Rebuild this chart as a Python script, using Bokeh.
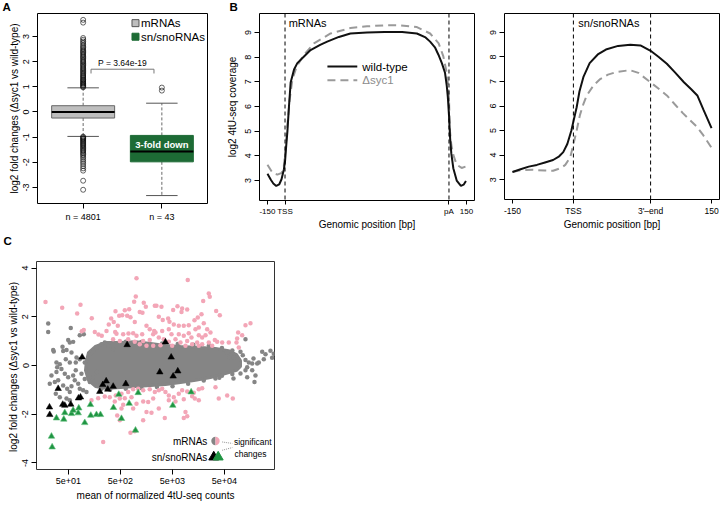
import numpy as np
from bokeh.plotting import figure
from bokeh.models import FixedTicker, Range1d, Span
from bokeh.layouts import row, column
from bokeh.embed import file_html
from bokeh.resources import INLINE
from bokeh.core.properties import value

FONT = "Liberation Sans"

# ---------------- Panel A data ----------------
groups = ["mRNAs", "sn/snoRNAs"]
group_n = ["n = 4801", "n = 43"]
box_lower_whisker = [-0.97, -3.32]
box_q1 = [-0.24, -1.98]
box_median = [0.0, -1.57]
box_q3 = [0.25, -0.93]
box_upper_whisker = [0.96, 0.35]
mrna_outliers = [0.98, 1.01, 1.05, 1.08, 1.12, 1.15, 1.19, 1.23, 1.27, 1.3, 1.35, 1.39, 1.43, 1.47, 1.52,
                 1.56, 1.61, 1.65, 1.7, 1.74, 1.79, 1.84, 1.88, 1.93, 1.98, 2.02, 2.07, 2.12, 2.17, 2.21,
                 2.26, 2.31, 2.36, 2.4, 2.45, 2.5, 2.56, 2.61, 2.67, 2.74, 2.8, 2.87, 2.94, 3.55, 3.66,
                 -0.98, -1.01, -1.05, -1.08, -1.12, -1.16, -1.2, -1.24, -1.28, -1.32, -1.36, -1.41,
                 -1.45, -1.5, -1.54, -1.59, -1.64, -1.69, -1.75, -1.82, -1.9, -1.98, -2.06, -2.15,
                 -2.24, -2.33, -2.73, -3.09]
sno_outliers = [0.97, 0.85]
p_value_text = "P = 3.64e-19"

# ---------------- Panel B data ----------------
mrna_pos = [-150, -120, -100, -75, -50, -30, -10, 0, 10, 20, 34, 48, 77, 105, 162, 218, 300, 360, 460,
            558, 700, 850, 1000, 1126, 1200, 1239, 1280, 1310, 1340, 1366, 1381, 1390, 1400, 1410,
            1420, 1437, 1466, 1502, 1525, 1545]
mrna_wt = [3.27, 3.02, 2.88, 2.78, 2.84, 3.05, 3.45, 3.77, 4.4, 4.97, 6.03, 6.97, 7.5, 7.76, 8.03, 8.29,
           8.5, 8.63, 8.82, 8.96, 9.0, 9.02, 9.02, 8.96, 8.8, 8.63, 8.4, 8.1, 7.75, 7.37, 6.85, 6.4,
           5.65, 4.7, 4.1, 3.5, 3.0, 2.78, 2.83, 2.98]
mrna_pos_mut = [-150, -107, -65, -28, -10, 0, 10, 20, 40, 63, 100, 162, 247, 389, 558, 700, 843, 983,
                1126, 1239, 1312, 1352, 1381, 1392, 1400, 1409, 1420, 1437, 1466, 1508, 1545]
mrna_syc1 = [3.64, 3.31, 3.24, 3.31, 3.6, 4.04, 4.6, 5.23, 6.3, 7.1, 7.63, 8.1, 8.56, 8.96, 9.18,
             9.25, 9.29, 9.29, 9.22, 8.96, 8.56, 8.03, 7.36, 6.9, 6.3, 4.98, 4.45, 4.04, 3.64, 3.51, 3.57]
sno_pos = [-150, -130, -110, -90, -70, -50, -35, -25, -15, -5, 0, 8, 15, 25, 40, 60, 80, 110, 140,
           165, 190, 210, 230, 250, 272, 290, 305, 320, 340]
sno_wt = [3.31, 3.42, 3.53, 3.6, 3.7, 3.8, 3.95, 4.12, 4.45, 5.0, 5.37, 5.95, 6.6, 7.2, 7.75, 8.1,
          8.3, 8.45, 8.5, 8.47, 8.25, 8.0, 7.72, 7.37, 6.97, 6.68, 6.43, 5.85, 5.1]
sno_pos_mut = [-150, -130, -100, -70, -50, -30, -20, -8, 0, 8, 16, 25, 33, 50, 66, 85, 107, 139, 160,
               190, 210, 230, 250, 270, 303, 320, 340]
sno_syc1 = [3.31, 3.38, 3.4, 3.37, 3.36, 3.48, 3.6, 3.9, 4.44, 5.0, 5.63, 6.1, 6.43, 6.85, 7.1, 7.28,
            7.39, 7.46, 7.35, 6.96, 6.7, 6.43, 6.06, 5.7, 5.17, 4.8, 4.3]
mrna_ticks = [-150, 0, 1400, 1550]
mrna_tick_labels = ["-150", "TSS", "pA", "150"]
sno_ticks = [-150, 0, 190, 340]
sno_tick_labels = ["-150", "TSS", "3'\u2013end", "150"]

# ---------------- Panel C data (log10 mean count, log2 fold change) ----------------
core_log_mean = [2.084, 2.218, 2.41, 2.699, 2.987, 3.276, 3.564, 3.853, 4.237, 4.526, 4.776, 4.93, 5.007,
                 5.007, 4.93, 4.718, 4.43, 4.141, 3.853, 3.564, 3.276, 2.987, 2.699, 2.41, 2.218, 2.084,
                 2.026, 2.045]
core_lfc = [0.53, 0.78, 0.94, 0.94, 0.98, 0.9, 0.82, 0.78, 0.74, 0.7, 0.61, 0.45, 0.2, -0.04, -0.2,
            -0.33, -0.49, -0.61, -0.7, -0.78, -0.82, -0.86, -0.9, -0.94, -0.86, -0.61, -0.2, 0.2]
gray_log_mean = [1.309, 1.309, 1.743, 1.916, 1.993, 1.405, 1.416, 1.584, 1.597, 1.693, 1.724, 1.789, 1.468,
                 1.532, 1.661, 1.757, 1.853, 1.647, 1.724, 1.839, 1.916, 2.012, 2.109, 2.174, 2.237, 2.334,
                 2.397, 2.462, 2.559, 1.339, 1.436, 1.501, 1.372, 1.468, 1.564, 1.482, 1.628, 1.693, 1.597,
                 1.674, 1.724, 1.757, 1.82, 1.886, 1.916, 1.982, 2.045, 1.789, 1.839, 1.949, 2.012, 2.109,
                 2.174, 2.237, 2.27, 2.334, 1.455, 1.532, 1.661, 1.724, 5.103, 4.751, 4.795, 4.878, 5.007,
                 5.051, 5.424, 5.488, 5.455, 5.103, 5.167, 5.232, 5.359, 5.583, 5.647, 5.615, 5.257, 5.328,
                 5.136, 5.232, 5.295, 5.136, 5.276, 4.872, 5.103, 4.526, 5.007, 4.65, 3.5, 3.8, 4.1, 4.4,
                 4.65, 4.85, 2.8, 3.1, 2.5, 2.8, 3.1, 3.4, 3.7, 4.0, 4.3, 4.6, 4.85]
gray_lfc = [1.72, 1.38, 1.54, 1.24, 1.28, 0.64, 0.57, 0.77, 0.6, 1.05, 0.94, 0.97, 0.12, 0.05, 0.64, 0.53,
            0.33, 0.26, 0.12, 0.12, 0.26, 0.12, 0.46, 0.6, 0.74, 0.87, 0.94, 0.81, 0.67, -0.75, -0.68,
            -0.61, -0.41, -0.27, -0.14, -0.07, -0.34, -0.48, -0.82, -0.95, -1.09, -0.85, -0.61, -0.75,
            -0.95, -1.02, -1.09, -0.41, -0.2, -0.34, -0.55, -0.68, -0.48, -0.27, -0.82, -0.95, -1.16,
            -1.3, -1.36, -1.43, 1.08, 0.53, 0.33, 0.33, 0.56, 0.42, 0.56, 0.46, 0.26, 0.23, 0.12, 0.08,
            0.12, 0.61, 0.48, 0.32, 0.29, 0.08, -0.07, -0.2, -0.41, -0.48, -0.68, -0.53, -0.2, -0.53,
            -0.33, -0.42, 0.9, 0.88, 0.85, 0.82, 0.72, 0.62, 0.98, 0.96, -1.0, -0.95, -0.92, -0.88,
            -0.85, -0.75, -0.62, -0.5, -0.35]
pink_log_mean = [3.007, 1.257, 1.578, 1.93, 1.866, 2.147, 2.993, 2.962, 3.147, 3.186, 3.07, 3.122, 2.782,
                 2.866, 2.603, 2.732, 2.674, 2.828, 2.891, 2.52, 2.57, 2.974, 2.474, 2.647, 3.199, 3.262,
                 1.993, 1.955, 2.205, 2.276, 2.339, 2.43, 2.597, 2.622, 2.751, 2.853, 2.943, 3.007, 3.116,
                 3.328, 3.347, 2.557, 2.686, 2.847, 2.974, 3.135, 3.262, 3.07, 3.199, 3.328, 3.359,
                 3.993, 4.397, 4.416, 4.29, 4.539, 4.609, 3.391, 3.487, 3.712, 3.795, 3.885, 3.982, 3.872,
                 4.257, 4.186, 4.122, 3.436, 3.512, 3.616, 3.641, 4.301, 5.103, 5.199, 3.724, 3.82, 3.916,
                 4.012, 4.141, 4.205, 4.366, 4.43, 3.372, 3.501, 3.628, 3.68, 3.82, 3.916, 4.012, 4.064,
                 4.205, 4.27, 4.334, 4.962, 5.039, 4.943, 4.93, 4.974, 4.513, 4.558, 4.655, 4.782, 3.436,
                 3.532, 3.628, 3.757, 3.853, 3.982, 4.077, 4.174, 4.27, 4.397, 3.468, 3.693, 3.949, 4.205,
                 4.462,
                 2.141, 2.27, 2.397, 2.493, 2.609, 2.718, 2.847, 2.943, 3.039, 3.136, 3.262, 3.359, 2.686,
                 2.782, 2.911, 2.589, 2.751, 2.718, 2.636, 2.686, 2.943, 3.007, 3.136, 3.232, 3.328, 3.199,
                 3.295, 3.135, 2.891, 2.974, 2.366, 3.436, 3.501, 3.564, 3.628, 3.724, 3.82, 3.885, 3.982,
                 4.109, 4.205, 4.27, 4.128, 4.205, 4.077, 3.916, 3.628, 3.757, 3.436, 3.551, 3.949, 3.982,
                 3.916, 4.589, 4.751, 4.859, 4.526]
pink_lfc = [3.58, 2.61, 2.37, 2.49, 2.13, 1.94, 2.83, 2.62, 2.58, 2.41, 2.2, 2.17, 2.27, 2.31, 2.23, 2.06,
            2.04, 2.04, 1.98, 1.93, 1.79, 1.79, 1.68, 1.63, 1.63, 1.49, 1.46, 1.41, 1.38, 1.27, 1.22,
            1.42, 1.38, 1.3, 1.28, 1.31, 1.32, 1.22, 1.28, 1.28, 1.42, 1.08, 1.01, 1.08, 0.97, 1.01,
            1.05, 0.87, 0.81, 0.81, 2.45,
            3.51, 2.96, 2.82, 2.65, 2.24, 2.06, 2.45, 2.41, 2.28, 2.43, 2.34, 2.3, 2.2, 2.1, 1.97, 1.86,
            2.0, 1.87, 1.93, 1.8, 1.73, 1.65, 1.73, 1.68, 1.63, 1.63, 1.65, 1.49, 1.56, 1.49, 1.35, 1.35,
            1.42, 1.49, 1.28, 1.28, 1.22, 1.32, 1.15, 1.24, 1.15, 1.24, 1.35, 1.24, 1.11, 0.94, 0.74,
            1.05, 0.97, 0.94, 0.94, 1.15, 1.08, 0.97, 1.08, 0.94, 1.01, 0.87, 0.94, 0.87, 0.94, 0.83,
            0.81, 0.81, 0.81, 0.81,
            -1.43, -1.34, -1.27, -1.3, -1.23, -1.16, -1.09, -0.98, -0.95, -1.02, -0.98, -1.09, -1.36,
            -1.34, -1.3, -1.48, -1.61, -1.77, -2.05, -2.25, -1.77, -1.57, -1.48, -1.5, -1.36, -1.91,
            -1.94, -2.25, -2.76, -2.7, -3.14, -1.02, -0.95, -1.09, -1.23, -1.3, -1.16, -1.02, -1.07,
            -1.12, -0.98, -0.93, -1.36, -1.43, -1.26, -1.39, -1.43, -1.48, -1.77, -2.16, -1.91, -2.08,
            -2.16, -1.36, -1.23, -1.36, -0.89]
sno_ns_log_mean = [2.827, 3.564, 3.674, 3.455, 3.801, 3.712, 1.962, 2.424, 2.359, 2.455, 2.559, 2.801,
                   2.301, 1.501, 1.334, 1.339, 1.589, 1.628, 1.743, 1.891, 1.93]
sno_ns_lfc = [0.85, 0.96, 0.34, -0.27, -0.23, -0.44, 0.34, -0.64, -0.79, -0.98, -0.86, -0.75, -1.07,
              -0.95, -1.71, -2.02, -1.6, -1.64, -1.6, -1.34, -1.3]
sno_sig_log_mean = [1.372, 1.385, 1.468, 1.609, 1.628, 1.757, 1.789, 1.897, 1.886, 2.012, 2.122, 2.128,
                    2.237, 2.314, 2.564, 2.666, 2.718, 2.866, 3.039, 2.988, 4.058, 3.705]
sno_sig_lfc = [-2.91, -3.35, -2.16, -2.21, -1.94, -1.98, -1.84, -1.75, -1.95, -2.35, -1.61, -2.05, -2.02,
               -2.02, -1.73, -1.19, -2.18, -1.56, -1.12, -2.66, -1.09, -1.64]
c_ticks = [50, 500, 5000, 50000]
c_tick_labels = ["5e+01", "5e+02", "5e+03", "5e+04"]

GRAY_BOX = "#bebebe"
GREEN_BOX = "#1d6b35"
GRAY_PT = "#858585"
PINK_PT = "#f3a6b7"
GREEN_PT = "#1f9442"


def style(p):
    p.xgrid.visible = False
    p.ygrid.visible = False
    p.outline_line_color = "black"
    p.outline_line_width = 1
    p.outline_line_alpha = 1
    for ax in p.axis:
        ax.axis_line_color = None
        ax.major_tick_line_color = "black"
        ax.major_tick_out = 4
        ax.major_tick_in = 0
        ax.minor_tick_line_color = None
        ax.major_label_text_font = FONT
        ax.major_label_text_font_size = "9px"
        ax.major_label_text_color = "black"
        ax.axis_label_text_font = FONT
        ax.axis_label_text_font_size = "10px"
        ax.axis_label_text_font_style = "normal"
        ax.axis_label_text_color = "black"
        ax.major_label_standoff = 3


def header(width, height):
    h = figure(width=width, height=height, x_range=Range1d(0, width), y_range=Range1d(0, height),
               output_backend="svg", toolbar_location=None, x_axis_type=None, y_axis_type=None,
               min_border=0, min_border_left=0, min_border_right=0, min_border_top=0, min_border_bottom=0,
               frame_align=False)
    h.xgrid.visible = False
    h.ygrid.visible = False
    h.outline_line_color = None
    return h


# ================= panel letters =================
hdr1 = header(720, 13)
hdr1.text(x=[2, 229], y=[12.9, 12.9], text=["A", "B"], text_font=value(FONT), text_font_size="11.5px",
          text_font_style="bold", text_baseline="top", text_color="black")
hdr2 = header(720, 18)
hdr2.text(x=[3], y=[15.4], text=["C"], text_font=value(FONT), text_font_size="11.5px",
          text_font_style="bold", text_baseline="top", text_color="black")

# ================= Panel A =================
pA = figure(width=218, height=219, x_range=Range1d(0.42, 2.58), y_range=Range1d(-3.635, 3.913),
            output_backend="svg", toolbar_location=None, min_border_left=37, min_border_right=11,
            min_border_top=0, min_border_bottom=29, frame_align=False)
style(pA)
xs = [1, 2]
pA.segment(x0=xs, x1=xs, y0=box_q3, y1=box_upper_whisker, line_color="#444444", line_dash="3 2", line_width=0.8)
pA.segment(x0=xs, x1=xs, y0=box_q1, y1=box_lower_whisker, line_color="#444444", line_dash="3 2", line_width=0.8)
pA.segment(x0=[x - 0.2 for x in xs], x1=[x + 0.2 for x in xs], y0=box_upper_whisker, y1=box_upper_whisker,
           line_color="#555555", line_width=1)
pA.segment(x0=[x - 0.2 for x in xs], x1=[x + 0.2 for x in xs], y0=box_lower_whisker, y1=box_lower_whisker,
           line_color="#555555", line_width=1)
pA.quad(left=[x - 0.4 for x in xs], right=[x + 0.4 for x in xs], bottom=box_q1, top=box_q3,
        fill_color=[GRAY_BOX, GREEN_BOX], line_color=["#666666", GREEN_BOX], line_width=1)
pA.segment(x0=[x - 0.4 for x in xs], x1=[x + 0.4 for x in xs], y0=box_median, y1=box_median,
           line_color="black", line_width=2.2)
pA.scatter(x=[1] * len(mrna_outliers), y=mrna_outliers, marker="circle", size=5, fill_color=None,
           line_color="black", line_width=0.6)
pA.scatter(x=[2] * len(sno_outliers), y=sno_outliers, marker="circle", size=5, fill_color=None,
           line_color="black", line_width=0.6)
pA.text(x=[2], y=[-1.3], text=["3-fold down"], text_color="white", text_font=value(FONT),
        text_font_size="9.5px", text_font_style="bold", text_align="center", text_baseline="middle")
pA.line(x=[1.1, 1.1, 1.9, 1.9], y=[1.53, 1.7, 1.7, 1.53], line_color="#777777", line_width=1)
pA.text(x=[1.5], y=[1.76], text=[p_value_text], text_font=value(FONT), text_font_size="8.5px",
        text_align="center", text_baseline="bottom", text_color="black")
pA.scatter(x=[1.665, 1.665], y=[3.53, 2.99], marker="square", size=7,
           fill_color=[GRAY_BOX, GREEN_BOX], line_color=["#555555", GREEN_BOX])
pA.text(x=[1.735, 1.735], y=[3.53, 2.99], text=groups, text_font=value(FONT), text_font_size="11.5px",
        text_baseline="middle", text_align="left", text_color="black")
pA.xaxis.ticker = FixedTicker(ticks=xs)
pA.xaxis.major_label_overrides = {1: group_n[0], 2: group_n[1]}
pA.xaxis.major_tick_out = 5
pA.yaxis.ticker = FixedTicker(ticks=[-3, -2, -1, 0, 1, 2, 3])
pA.yaxis.major_label_overrides = {v: str(v) for v in [-3, -2, -1, 0, 1, 2, 3]}
pA.yaxis.major_label_orientation = "vertical"
pA.yaxis.axis_label = "log2 fold changes (\u0394syc1 vs wild-type)"
pA.yaxis.axis_label_standoff = 1
pA.yaxis.major_tick_out = 5

# ================= Panel B (left) =================
yB = (2.19, 9.77)
pB1 = figure(width=260, height=219, x_range=Range1d(-218, 1618), y_range=Range1d(*yB),
             output_backend="svg", toolbar_location=None, min_border_left=41, min_border_right=4,
             min_border_top=0, min_border_bottom=29, frame_align=False)
style(pB1)
for xv in [0, 1400]:
    pB1.add_layout(Span(location=xv, dimension="height", line_color="black", line_dash="4 3", line_width=1))
pB1.line(mrna_pos_mut, mrna_syc1, line_color="#9a9a9a", line_width=2, line_dash="8 5")
pB1.line(mrna_pos, mrna_wt, line_color="#111111", line_width=2)
pB1.line([362, 617], [7.62, 7.62], line_color="#111111", line_width=2)
pB1.line([362, 617], [7.06, 7.06], line_color="#9a9a9a", line_width=2, line_dash="8 5")
pB1.text(x=[660, 660], y=[7.62, 7.06], text=["wild-type", "\u0394syc1"], text_color=["black", "#8c8c8c"],
         text_font=value(FONT), text_font_size="11.5px", text_baseline="middle")
pB1.text(x=[31], y=[9.37], text=["mRNAs"], text_font=value(FONT), text_font_size="11px",
         text_baseline="middle", text_color="black")
pB1.xaxis.ticker = FixedTicker(ticks=mrna_ticks)
pB1.xaxis.major_label_overrides = dict(zip(mrna_ticks, mrna_tick_labels))
pB1.xaxis.major_label_text_font_size = "8px"
pB1.xaxis.axis_label = "Genomic position [bp]"
pB1.xaxis.axis_label_standoff = 0
pB1.xaxis.major_label_standoff = 2
pB1.yaxis.ticker = FixedTicker(ticks=[3, 4, 5, 6, 7, 8, 9])
pB1.yaxis.major_label_orientation = "vertical"
pB1.yaxis.axis_label = "log2 4tU-seq coverage"
pB1.yaxis.axis_label_standoff = 5
pB1.yaxis.major_tick_out = 5

# ================= Panel B (right) =================
pB2 = figure(width=242, height=219, x_range=Range1d(-169.6, 359.6), y_range=Range1d(*yB),
             output_backend="svg", toolbar_location=None, min_border_left=26, min_border_right=1,
             min_border_top=0, min_border_bottom=29, frame_align=False)
style(pB2)
for xv in [0, 190]:
    pB2.add_layout(Span(location=xv, dimension="height", line_color="black", line_dash="4 3", line_width=1))
pB2.line(sno_pos_mut, sno_syc1, line_color="#9a9a9a", line_width=2, line_dash="8 5")
pB2.line(sno_pos, sno_wt, line_color="#111111", line_width=2)
pB2.text(x=[12], y=[9.37], text=["sn/snoRNAs"], text_font=value(FONT), text_font_size="11px",
         text_baseline="middle", text_color="black")
pB2.xaxis.ticker = FixedTicker(ticks=sno_ticks)
pB2.xaxis.major_label_overrides = dict(zip(sno_ticks, sno_tick_labels))
pB2.xaxis.major_label_text_font_size = "8.5px"
pB2.xaxis.axis_label = "Genomic position [bp]"
pB2.xaxis.axis_label_standoff = 0
pB2.xaxis.major_label_standoff = 2
pB2.yaxis.ticker = FixedTicker(ticks=[3, 4, 5, 6, 7, 8, 9])
pB2.yaxis.major_label_orientation = "vertical"
pB2.yaxis.major_tick_out = 5

# ================= Panel C =================
pC = figure(width=290, height=267, x_axis_type="log", x_range=Range1d(10 ** 1.084, 10 ** 5.661),
            y_range=Range1d(-4.27, 4.27), output_backend="svg", toolbar_location=None,
            min_border_left=36, min_border_right=16, min_border_top=11, min_border_bottom=48,
            frame_align=False)
style(pC)
pC.outline_line_color = "#333333"
pC.patch(x=10 ** np.array(core_log_mean), y=core_lfc, fill_color=GRAY_PT, line_color=GRAY_PT, line_width=3)
pC.scatter(x=10 ** np.array(gray_log_mean), y=gray_lfc, size=4.5, fill_color=GRAY_PT, line_color=None)
pC.scatter(x=10 ** np.array(pink_log_mean), y=pink_lfc, size=4.5, fill_color=PINK_PT, line_color=None)
pC.scatter(x=10 ** np.array(sno_ns_log_mean), y=sno_ns_lfc, marker="triangle", size=6.5,
           fill_color="black", line_color="black", line_width=0.5)
pC.scatter(x=10 ** np.array(sno_sig_log_mean), y=sno_sig_lfc, marker="triangle", size=6.5,
           fill_color=GREEN_PT, line_color="#5fbf7a", line_width=0.6)
# legend
lx = 10 ** 4.526
pC.wedge(x=[lx], y=[-3.1], radius=4.2, radius_units="screen", start_angle=np.pi / 2,
         end_angle=3 * np.pi / 2, fill_color=GRAY_PT, line_color=None)
pC.wedge(x=[lx], y=[-3.1], radius=4.2, radius_units="screen", start_angle=-np.pi / 2,
         end_angle=np.pi / 2, fill_color=PINK_PT, line_color=None)
pC.scatter(x=[10 ** 4.493], y=[-3.76], marker="triangle", size=10, fill_color="black", line_color="black")
pC.scatter(x=[10 ** 4.578], y=[-3.76], marker="triangle", size=10, fill_color=GREEN_PT, line_color=GREEN_PT)
pC.text(x=[10 ** 4.37, 10 ** 4.37], y=[-3.1, -3.76], text=["mRNAs", "sn/snoRNAs"], text_font=value(FONT),
        text_font_size="10px", text_align="right", text_baseline="middle", text_color="black")
pC.line(x=[10 ** 4.655, 10 ** 4.85], y=[-3.14, -3.2], line_color="#777777", line_dash="1 1", line_width=0.8)
pC.line(x=[10 ** 4.655, 10 ** 4.85], y=[-3.48, -3.37], line_color="#777777", line_dash="1 1", line_width=0.8)
pC.text(x=[10 ** 4.88, 10 ** 4.89], y=[-3.14, -3.62], text=["significant", "changes"], text_font=value(FONT),
        text_font_size="8.5px", text_align="left", text_baseline="middle", text_color="black")
pC.xaxis.ticker = FixedTicker(ticks=c_ticks)
pC.xaxis.major_label_overrides = dict(zip(c_ticks, c_tick_labels))
pC.xaxis.axis_label = "mean of normalized 4tU-seq counts"
pC.xaxis.axis_label_standoff = 3
pC.xaxis.major_tick_out = 5
pC.yaxis.ticker = FixedTicker(ticks=[-4, -2, 0, 2, 4])
pC.yaxis.major_label_overrides = {v: str(v) for v in [-4, -2, 0, 2, 4]}
pC.yaxis.major_label_orientation = "vertical"
pC.yaxis.axis_label = "log2  fold changes (\u0394syc1 vs wild-type)"
pC.yaxis.axis_label_standoff = 1
pC.yaxis.major_tick_out = 5

layout = column(hdr1, row(pA, pB1, pB2), hdr2, pC)
open("out.html", "w").write(file_html(layout, INLINE))
